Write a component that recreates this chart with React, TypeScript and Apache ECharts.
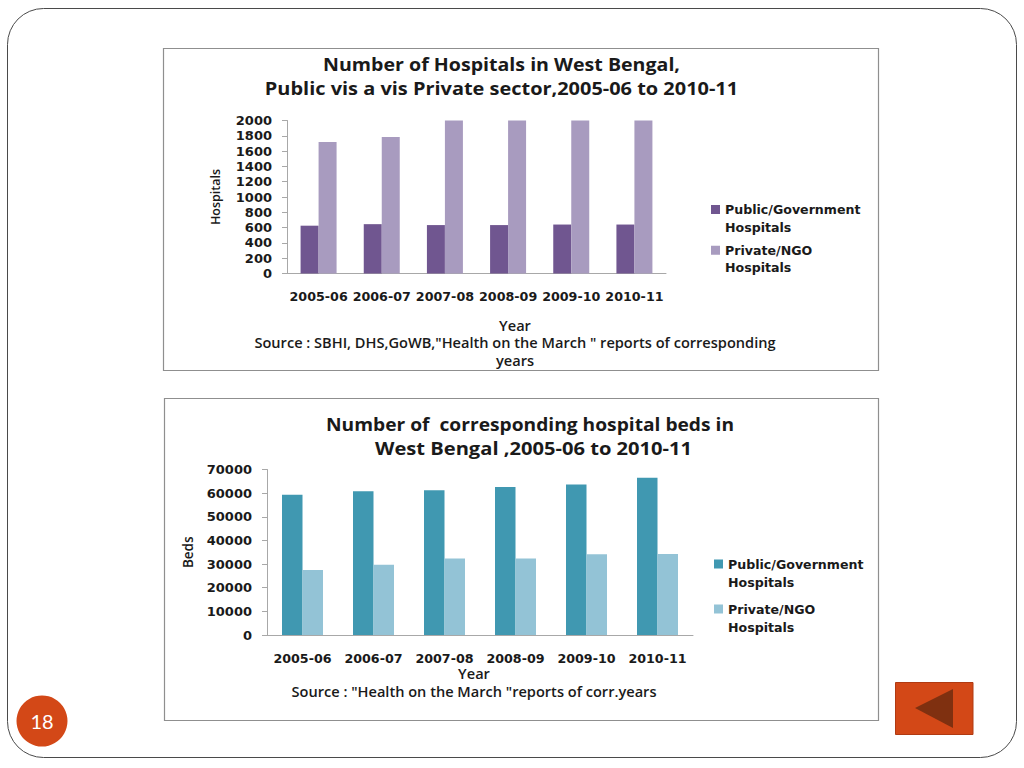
import React, { useEffect, useRef } from "react";
import * as echarts from "echarts";

const years = ["2005-06", "2006-07", "2007-08", "2008-09", "2009-10", "2010-11"];
const hospitalsPublic = [625, 645, 633, 633, 640, 640];
const hospitalsPrivate = [1720, 1785, 2000, 2000, 2000, 2000];
const bedsPublic = [59300, 60800, 61200, 62600, 63700, 66500];
const bedsPrivate = [27500, 29700, 32400, 32400, 34200, 34300];
const publicName = "Public/Government\nHospitals";
const privateName = "Private/NGO\nHospitals";

const FONT = "Open Sans";
const WIDE = "DejaVu Sans";
const INK = "#1a1a1a";
const LEGEND_ICON = "path://M0 0H9V9H0Z M0 27H0.01V27Z";

function text(x: number, y: number, t: string, size: number, scaleX = 1, weight: any = 600) {
  return {
    type: "text",
    x,
    y,
    scaleX,
    style: { text: t, font: `${weight} ${size}px "${FONT}"`, fill: INK, align: "center", verticalAlign: "middle" },
  };
}

function chartOption(c: any) {
  const axisLine = { show: true, lineStyle: { color: "#a8a8a8", width: 1 } };
  return {
    animation: false,
    textStyle: { fontFamily: FONT },
    grid: { left: c.left, width: c.width, top: c.top, height: c.height, containLabel: false },
    legend: {
      left: c.legendLeft,
      top: c.legendTop,
      padding: 0,
      orient: "vertical",
      itemWidth: 9,
      itemHeight: 27,
      itemGap: c.legendGap,
      selectedMode: false,
      icon: LEGEND_ICON,
      textStyle: {
        fontFamily: WIDE,
        fontSize: 12.6,
        fontWeight: 700,
        color: INK,
        lineHeight: c.legendLine,
      },
    },
    xAxis: {
      type: "category",
      data: years,
      axisLine,
      axisTick: { show: false },
      axisLabel: { color: INK, fontFamily: WIDE, fontSize: 12.7, fontWeight: 700, margin: c.labelMargin, interval: 0 },
    },
    yAxis: {
      type: "value",
      min: 0,
      max: c.max,
      interval: c.interval,
      name: c.yName,
      nameLocation: "middle",
      nameRotate: 90,
      nameGap: c.nameGap,
      nameTextStyle: { color: INK, fontFamily: FONT, fontSize: c.nameSize, fontWeight: 600 },
      axisLine,
      axisTick: { show: true, length: 5, lineStyle: { color: "#a8a8a8" } },
      splitLine: { show: false },
      axisLabel: { color: INK, fontFamily: WIDE, fontSize: 13, fontWeight: 700, margin: 15, formatter: (v: number) => String(v) },
    },
    series: [
      { name: publicName, type: "bar", data: c.a, barWidth: c.barWidth, barGap: 0, itemStyle: { color: c.colorA } },
      { name: privateName, type: "bar", data: c.b, barWidth: c.barWidth, barGap: 0, itemStyle: { color: c.colorB } },
    ],
    graphic: c.texts,
  };
}

const backgroundOption = {
  animation: false,
  graphic: [
    { type: "rect", shape: { x: 7.5, y: 8.5, width: 1009, height: 749, r: 36 }, style: { fill: "#fff", stroke: "#4a4a4a", lineWidth: 1 } },
    { type: "rect", shape: { x: 163.5, y: 48.5, width: 715, height: 322 }, style: { fill: "#fff", stroke: "#8f8f8f", lineWidth: 1.2 } },
    { type: "rect", shape: { x: 164.5, y: 398.5, width: 714, height: 322 }, style: { fill: "#fff", stroke: "#8f8f8f", lineWidth: 1.2 } },
    { type: "circle", shape: { cx: 42, cy: 721, r: 25.5 }, style: { fill: "#D34817" } },
    { type: "text", x: 42, y: 721, style: { text: "18", font: '400 20px "Lato"', fill: "#fff", align: "center", verticalAlign: "middle" } },
    { type: "rect", shape: { x: 895.5, y: 682.5, width: 77.5, height: 52 }, style: { fill: "#D34817", stroke: "#b03a12", lineWidth: 1 } },
    { type: "polygon", shape: { points: [[915, 708], [953, 689], [953, 728]] }, style: { fill: "#7F3010" } },
  ],
};

const hospitalsConfig = {
  left: 287, width: 379, top: 120.5, height: 153,
  max: 2000, interval: 200, a: hospitalsPublic, b: hospitalsPrivate,
  colorA: "#705690", colorB: "#A89BBF", barWidth: 18,
  yName: "Hospitals", nameGap: 65, nameSize: 12.5,
  labelMargin: 16,
  legendLeft: 711, legendTop: 201, legendGap: 5.7, legendLine: 17.5,
  texts: [
    text(501.5, 64, "Number of Hospitals in West Bengal,", 17.5, 1.12, 700),
    text(501.5, 88, "Public vis a vis Private sector,2005-06 to 2010-11", 17.5, 1.14, 700),
    text(515, 326, "Year", 13.5, 1.08),
    text(515, 343, 'Source : SBHI, DHS,GoWB,"Health on the March " reports of corresponding', 13.5, 1.08),
    text(515, 361, "years", 13.5, 1.08),
  ],
};

const bedsConfig = {
  left: 267, width: 426, top: 469.5, height: 165.5,
  max: 70000, interval: 10000, a: bedsPublic, b: bedsPrivate,
  colorA: "#4098B1", colorB: "#93C3D6", barWidth: 20.5,
  yName: "Beds", nameGap: 72, nameSize: 13.5,
  labelMargin: 17,
  legendLeft: 714, legendTop: 555, legendGap: 9, legendLine: 18,
  texts: [
    text(530, 424, "Number of  corresponding hospital beds in", 17.5, 1.097, 700),
    text(533.5, 449, "West Bengal ,2005-06 to 2010-11", 17.5, 1.15, 700),
    text(474, 674, "Year", 13.5, 1.08),
    text(474, 692, 'Source : "Health on the March "reports of corr.years', 13.5, 1.08),
  ],
};

const layer: React.CSSProperties = { position: "fixed", left: 0, top: 0, width: 1024, height: 768 };

export default function App() {
  const bg = useRef<HTMLDivElement>(null);
  const first = useRef<HTMLDivElement>(null);
  const second = useRef<HTMLDivElement>(null);

  useEffect(() => {
    const make = (el: HTMLDivElement | null, option: any) => {
      const chart = echarts.init(el as HTMLDivElement, undefined, { renderer: "svg" });
      chart.setOption(option);
      return chart;
    };
    const charts = [
      make(bg.current, backgroundOption),
      make(first.current, chartOption(hospitalsConfig)),
      make(second.current, chartOption(bedsConfig)),
    ];
    return () => charts.forEach((c) => c.dispose());
  }, []);

  return (
    <div style={{ ...layer, background: "#fff" }}>
      <div ref={bg} style={layer} />
      <div ref={first} style={layer} />
      <div ref={second} style={layer} />
    </div>
  );
}
